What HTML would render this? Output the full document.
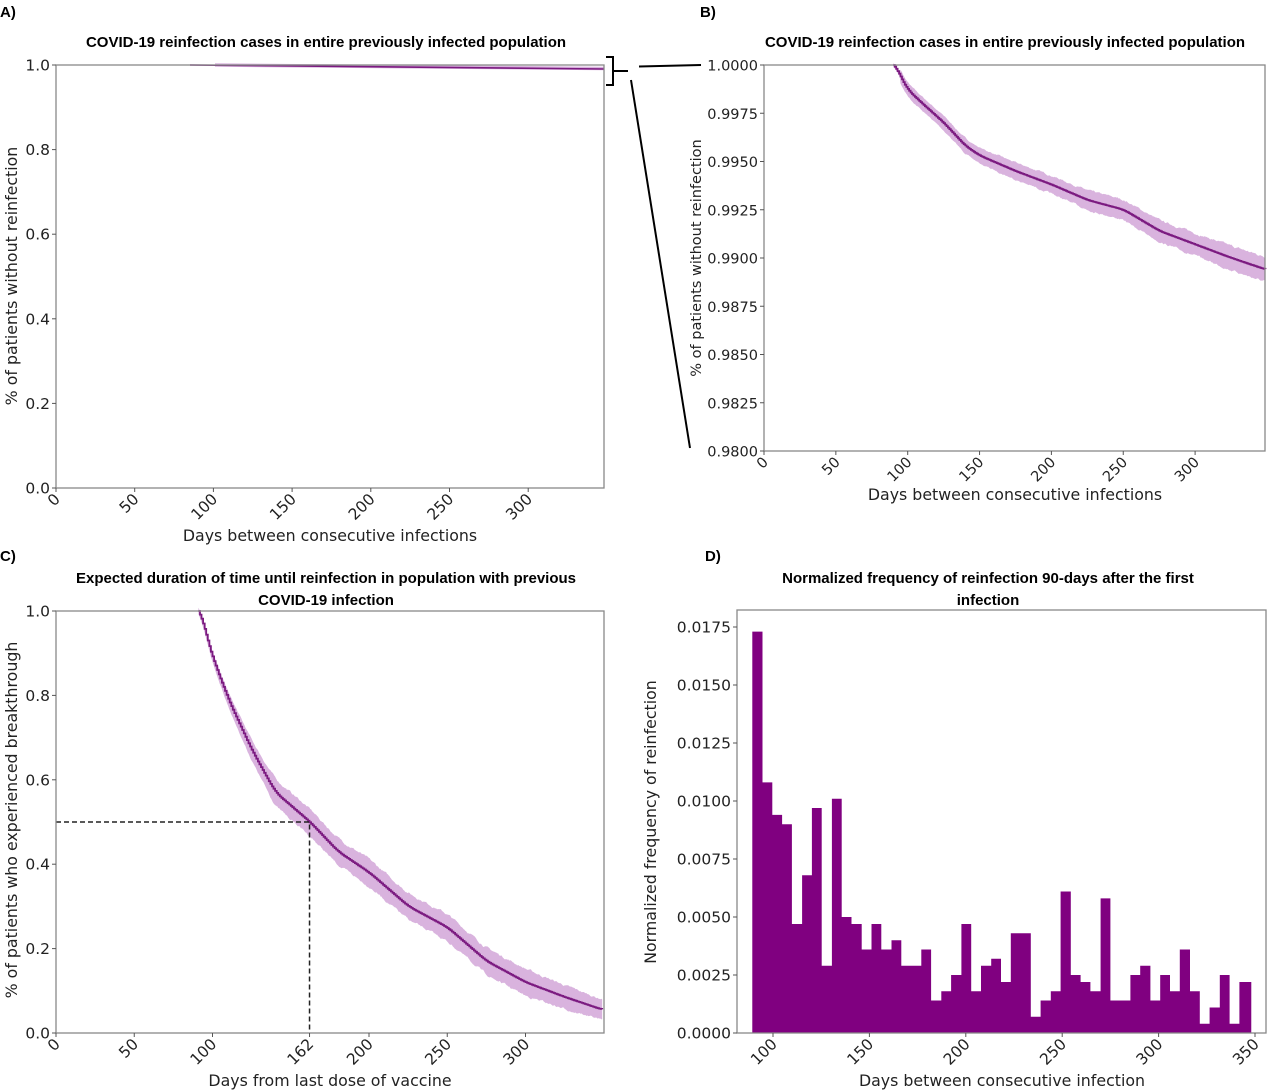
<!DOCTYPE html>
<html><head><meta charset="utf-8"><style>
html,body{margin:0;padding:0;background:#fff;}
svg{display:block;font-family:"DejaVu Sans","Liberation Sans",sans-serif;}
.t{font-family:"Liberation Sans",sans-serif;font-weight:bold;font-size:15px;fill:#000;}
.tk{font-size:15.5px;fill:#222;}
.tb{font-size:14.5px;fill:#222;}
.lb{font-size:15.8px;fill:#222;}
</style></head><body>
<svg id="s" width="1280" height="1092" xmlns="http://www.w3.org/2000/svg">
<rect width="1280" height="1092" fill="#fff"/>
<g id="g"></g>
</svg>
<script>
var g=document.getElementById('g'),h='';
function lin(x,y){return 'M'+x.map(function(v,i){return v.toFixed(1)+','+y[i].toFixed(1)}).join('L');}
function interp(pts,d){for(var i=0;i<pts.length-1;i++){if(d<=pts[i+1][0]){var a=pts[i],b=pts[i+1];return a[1]+(b[1]-a[1])*(d-a[0])/(b[0]-a[0]);}}return pts[pts.length-1][1];}
function frame(L,T,R,B){h+='<rect x="'+L+'" y="'+T+'" width="'+(R-L)+'" height="'+(B-T)+'" fill="none" stroke="#888" stroke-width="1.3"/>';}
function xticks(vals,pos,B,c){c=c||'tk';vals.forEach(function(v,i){var x=pos[i];h+='<line x1="'+x+'" y1="'+B+'" x2="'+x+'" y2="'+(B+4)+'" stroke="#555"/>';h+='<text class="'+c+'" text-anchor="end" transform="translate('+(x+5)+','+(B+12)+') rotate(-45)">'+v+'</text>';});}
function yticks(vals,pos,L,c){c=c||'tk';vals.forEach(function(v,i){var y=pos[i];h+='<line x1="'+(L-4)+'" y1="'+y+'" x2="'+L+'" y2="'+y+'" stroke="#555"/>';h+='<text class="'+c+'" text-anchor="end" x="'+(L-6)+'" y="'+(y+5.5)+'">'+v+'</text>';});}
var seed=7;function rnd(){seed=(seed*16807)%2147483647;return seed/2147483647;}
function km(pts,bandf,X,Y,d0,d1){var raw=[],ds=[];for(var d=d0;d<=d1;d+=0.5){ds.push(d);raw.push(interp(pts,d));}
var sm=raw.map(function(v,i){var s=0,n=0;for(var k=-8;k<=8;k++){var j=Math.min(raw.length-1,Math.max(0,i+k));s+=raw[j];n++;}return s/n;});
var off=sm[0]-raw[0];for(var i=0;i<sm.length;i++){sm[i]-=off*Math.max(0,1-i/16);}
var xs=[],ys=[],up=[],lo=[],jit=0;
for(var i=0;i<ds.length;i++){var d=ds[i],t=sm[i];jit=jit*0.8+(rnd()-0.5)*0.4;var b=bandf(d)*(1+jit*0.3);xs.push(X(d));ys.push(Y(t));up.push(Y(t+b));lo.push(Y(t-b));}
var band='M'+xs.map(function(x,i){return x.toFixed(1)+','+up[i].toFixed(1)}).join('L')+'L'+xs.slice().reverse().map(function(x,i){return x.toFixed(1)+','+lo[lo.length-1-i].toFixed(1)}).join('L')+'Z';
h+='<path d="'+band+'" fill="#d9b3de" stroke="none"/>';
var sx=[],sy=[];for(var i=0;i<xs.length;i+=2){sx.push(xs[i]);sy.push(i?ys[i-2]:ys[0]);sx.push(xs[i]);sy.push(ys[i]);}
h+='<path d="'+lin(sx,sy)+'" fill="none" stroke="#7b1a80" stroke-width="1.8"/>';}

// ---------- Panel A ----------
h+='<text class="t" x="0" y="17">A)</text>';
h+='<text class="t" x="326" y="47" text-anchor="middle">COVID-19 reinfection cases in entire previously infected population</text>';
var AL=56,AR=604,AT=65,AB=488;
h+='<path d="M215,65 L604,68.5" stroke="#d9b3de" stroke-width="3.5" fill="none"/>';
h+='<path d="M190,65 L604,69" stroke="#7b1a80" stroke-width="1.6" fill="none"/>';
frame(AL,AT,AR,AB);
xticks([0,50,100,150,200,250,300],[0,50,100,150,200,250,300].map(function(d){return AL+d*1.574}),AB);
yticks(['0.0','0.2','0.4','0.6','0.8','1.0'],[0,1,2,3,4,5].map(function(i){return AB-i*(AB-AT)/5}),AL);
h+='<text class="lb" text-anchor="middle" x="330" y="541">Days between consecutive infections</text>';
h+='<text class="lb" text-anchor="middle" transform="translate(17,276) rotate(-90)">% of patients without reinfection</text>';
h+='<path d="M606,57 L613,57 L613,85 L606,85 M613,71 L628,71" stroke="#000" stroke-width="2" fill="none"/>';
h+='<line x1="639" y1="66.5" x2="701" y2="65" stroke="#000" stroke-width="2"/>';
h+='<line x1="631" y1="80" x2="690" y2="448" stroke="#000" stroke-width="2"/>';

// ---------- Panel B ----------
h+='<text class="t" x="700" y="17">B)</text>';
h+='<text class="t" x="1005" y="47" text-anchor="middle">COVID-19 reinfection cases in entire previously infected population</text>';
var BL=764,BR=1265,BT=65,BB=451;
var bx=function(d){return BL+d*1.437},by=function(v){return BB-(v-0.98)/0.02*(BB-BT)};
km([[90,1.0],[100,0.9987],[110,0.998],[125,0.997],[140,0.9958],[150,0.9953],[175,0.9945],[200,0.9938],[225,0.993],[250,0.9925],[275,0.9914],[300,0.9907],[325,0.99],[349,0.9894]],
 function(d){return d<95?0.0001:0.00035+(d-100)/250*0.0003},bx,by,90,349);
frame(BL,BT,BR,BB);
xticks([0,50,100,150,200,250,300],[0,50,100,150,200,250,300].map(bx),BB,'tb');
yticks(['0.9800','0.9825','0.9850','0.9875','0.9900','0.9925','0.9950','0.9975','1.0000'],[0,1,2,3,4,5,6,7,8].map(function(i){return BB-i*(BB-BT)/8}),BL,'tb');
h+='<text class="lb" text-anchor="middle" x="1015" y="500">Days between consecutive infections</text>';
h+='<text class="lb" text-anchor="middle" transform="translate(701,258) rotate(-90)" style="font-size:14.5px">% of patients without reinfection</text>';

// ---------- Panel C ----------
h+='<text class="t" x="0" y="561">C)</text>';
h+='<text class="t" x="326" y="583" text-anchor="middle">Expected duration of time until reinfection in population with previous</text>';
h+='<text class="t" x="326" y="605" text-anchor="middle">COVID-19 infection</text>';
var CL=56,CR=604,CT=611,CB=1033;
var cx=function(d){return CL+d*1.565},cy=function(v){return CB-v*(CB-CT)};
km([[91,1.0],[100,0.89],[110,0.79],[125,0.67],[140,0.57],[162,0.50],[180,0.43],[200,0.38],[225,0.30],[250,0.25],[275,0.17],[300,0.12],[325,0.085],[349,0.055]],
 function(d){return 0.008+Math.min(1,(d-91)/50)*0.024-(d>300?(d-300)/50*0.008:0)},cx,cy,91,349);
h+='<path d="M'+CL+','+cy(0.5)+' L'+cx(162)+','+cy(0.5)+' L'+cx(162)+','+CB+'" stroke="#222" stroke-width="1.5" stroke-dasharray="5,3" fill="none"/>';
frame(CL,CT,CR,CB);
xticks([0,50,100,162,200,250,300],[0,50,100,162,200,250,300].map(cx),CB);
yticks(['0.0','0.2','0.4','0.6','0.8','1.0'],[0,1,2,3,4,5].map(function(i){return CB-i*(CB-CT)/5}),CL);
h+='<text class="lb" text-anchor="middle" x="330" y="1086">Days from last dose of vaccine</text>';
h+='<text class="lb" text-anchor="middle" transform="translate(17,820) rotate(-90)">% of patients who experienced breakthrough</text>';

// ---------- Panel D ----------
h+='<text class="t" x="705" y="561">D)</text>';
h+='<text class="t" x="988" y="583" text-anchor="middle">Normalized frequency of reinfection 90-days after the first</text>';
h+='<text class="t" x="988" y="605" text-anchor="middle">infection</text>';
var DL=737,DR=1266,DT=610,DB=1033;
var zx=function(z){return 640+z/2.449},dy=function(v){return DB-v/0.0175*406};
var E=[275,300,324,348,372,397,421,445,470,494,518,543,567,591,616,640,665,689,713,738,762,787,811,835,860,884,908,933,957,981,1006,1030,1055,1079,1103,1128,1152,1176,1201,1225,1250,1274,1298,1322,1347,1371,1395,1420,1444,1468,1497];
var H=[0.0173,0.0108,0.0094,0.0090,0.0047,0.0068,0.0097,0.0029,0.0101,0.0050,0.0047,0.0036,0.0047,0.0036,0.0040,0.0029,0.0029,0.0036,0.0014,0.0018,0.0025,0.0047,0.0018,0.0029,0.0032,0.0022,0.0043,0.0043,0.0007,0.0014,0.0018,0.0061,0.0025,0.0022,0.0018,0.0058,0.0014,0.0014,0.0025,0.0029,0.0014,0.0025,0.0018,0.0036,0.0018,0.0004,0.0011,0.0025,0.0004,0.0022];
var p='M'+zx(E[0])+','+DB;for(var i=0;i<H.length;i++){p+='L'+zx(E[i]).toFixed(1)+','+dy(H[i]).toFixed(1)+'L'+zx(E[i+1]).toFixed(1)+','+dy(H[i]).toFixed(1);}p+='L'+zx(E[E.length-1])+','+DB+'Z';
h+='<path d="'+p+'" fill="#800080"/>';
frame(DL,DT,DR,DB);
xticks([100,150,200,250,300,350],[100,150,200,250,300,350].map(function(d){return 773+(d-100)*1.928}),DB);
yticks(['0.0000','0.0025','0.0050','0.0075','0.0100','0.0125','0.0150','0.0175'],[0,1,2,3,4,5,6,7].map(function(i){return dy(i*0.0025)}),DL);
h+='<text class="lb" text-anchor="middle" x="1002" y="1086">Days between consecutive infection</text>';
h+='<text class="lb" text-anchor="middle" transform="translate(656,822) rotate(-90)">Normalized frequency of reinfection</text>';
g.innerHTML=h;
</script>
</body></html>
